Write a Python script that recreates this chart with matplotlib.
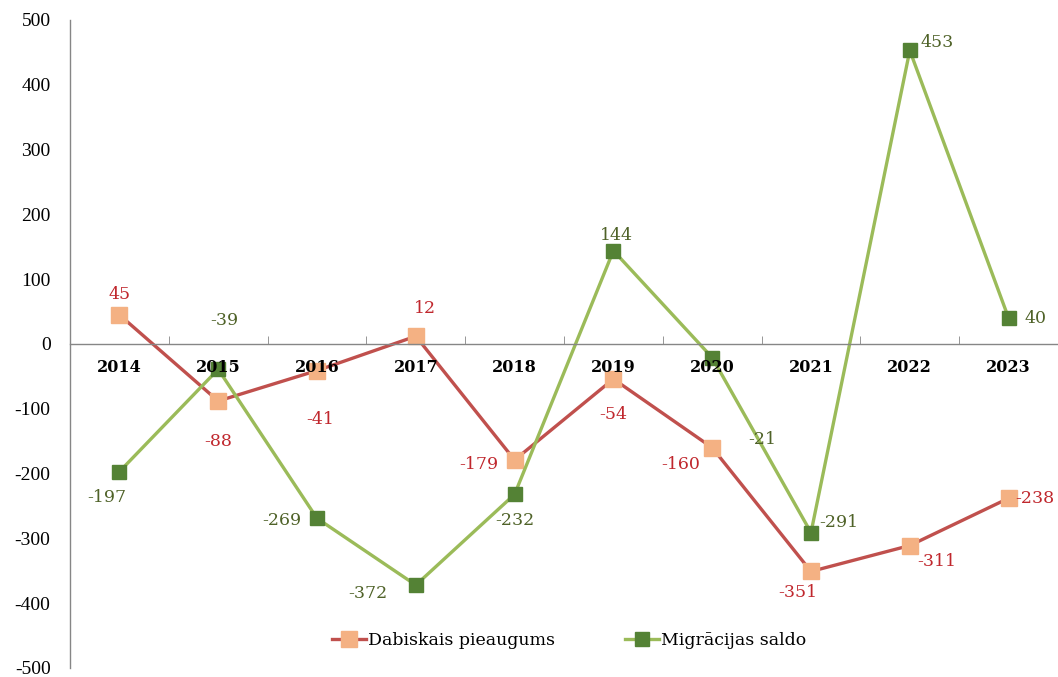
import numpy as np
import matplotlib
matplotlib.use("Agg")
import matplotlib.pyplot as plt

plt.rcParams['font.family'] = ['Liberation Serif', 'DejaVu Serif']
plt.rcParams['axes.unicode_minus'] = False

years = ['2014', '2015', '2016', '2017', '2018', '2019', '2020', '2021', '2022', '2023']
dabiskais = [45, -88, -41, 12, -179, -54, -160, -351, -311, -238]
migracijas = [-197, -39, -269, -372, -232, 144, -21, -291, 453, 40]

# label offsets in pixels (dx, dy) relative to each point
dab_offsets = [(0, 20), (0, -40), (3, -49), (9, 28), (-36, -5),
               (0, -36), (-32, -17), (-13, -21), (27, -16), (27, 0)]
mig_offsets = [(-13, -26), (6, 49), (-35, -2), (-48, -8), (0, -26),
               (3, 15), (50, -82), (28, 10), (27, 8), (27, 0)]

red_line = '#C0504D'
red_marker = '#F4B183'
red_text = '#C0272D'
green_line = '#9BBB59'
green_marker = '#548235'
green_text = '#4F6228'
label_font = 'DejaVu Serif'

fig = plt.figure(figsize=(10.58, 6.77), dpi=100)
ax = fig.add_axes([70/1058, 9/677, 988/1058, 648/677])
ax.set_axisbelow(False)

# spine position first: it resets the ticks
ax.spines['bottom'].set_position(('data', 0))
ax.spines['top'].set_visible(False)
ax.spines['right'].set_visible(False)
for s in ['left', 'bottom']:
    ax.spines[s].set_color('#868686')
    ax.spines[s].set_linewidth(1)

x = np.arange(len(years))
ax.plot(x, dabiskais, color=red_line, lw=2.4, marker='s', ms=11,
        mfc=red_marker, mec=red_marker, label='Dabiskais pieaugums', zorder=2)
ax.plot(x, migracijas, color=green_line, lw=2.4, marker='s', ms=10,
        mfc=green_marker, mec=green_marker, label='Migrācijas saldo', zorder=2)

for xi, v, (dx, dy) in zip(x, dabiskais, dab_offsets):
    ha = 'left' if (xi == 9) else 'center'
    ax.annotate(str(v), (xi, v), xytext=(dx if ha == 'center' else 7, dy),
                textcoords='offset pixels', ha=ha, va='center', family=label_font,
                color=red_text, fontsize=12.5, annotation_clip=False)
for xi, v, (dx, dy) in zip(x, migracijas, mig_offsets):
    ax.annotate(str(v), (xi, v), xytext=(dx, dy), textcoords='offset pixels',
                ha='center', va='center', color=green_text, fontsize=12.5,
                family=label_font, annotation_clip=False)

ax.set_xlim(-0.5, -0.5 + 988/99.2)
ax.set_ylim(-500, 500)
ax.set_yticks(np.arange(-500, 501, 100))
ax.tick_params(axis='y', length=0, pad=14, labelsize=14)

ax.set_xticks(x)
ax.set_xticklabels(years, fontfamily=label_font, fontweight='bold', fontsize=11.5)
ax.set_xticks(np.arange(-0.5, 10, 1), minor=True)
ax.tick_params(axis='x', which='major', length=0, pad=11)
ax.tick_params(axis='x', which='minor', length=6, direction='in', color='#868686')

ax.legend(loc='center', bbox_to_anchor=(0.505, 0.042), ncol=2, frameon=False,
          prop={'family': label_font, 'size': 12.5},
          columnspacing=4.0, handlelength=2.0, handletextpad=0.1)

fig.savefig('out.png', dpi=100)
